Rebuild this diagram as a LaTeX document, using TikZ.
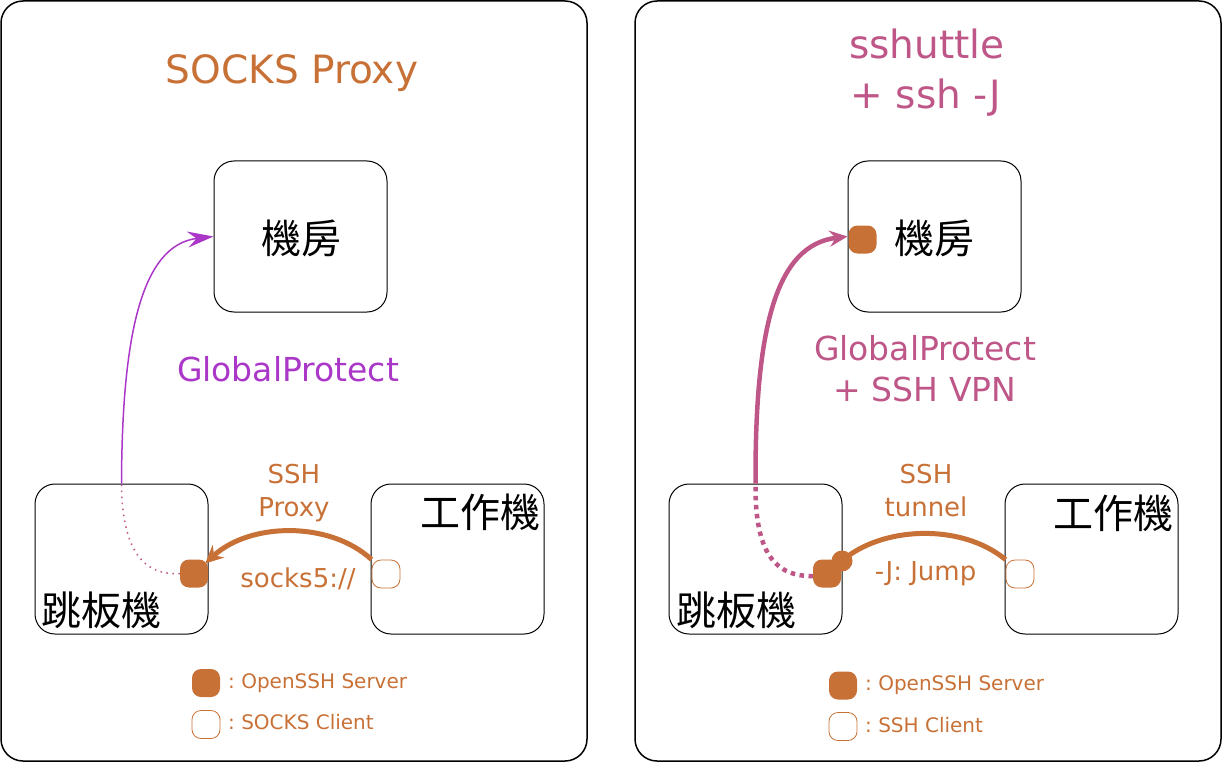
\documentclass[tikz,border=0pt]{standalone}
\usepackage{fontspec}
\setmainfont{DejaVu Sans}
\newfontfamily\cjk{Noto Sans CJK TC}
\usetikzlibrary{arrows.meta,calc}
\definecolor{orng}{HTML}{C87137}
\definecolor{purp}{HTML}{AB37C8}
\definecolor{pnk}{HTML}{BF5688}
\frenchspacing
\tikzset{
 panel/.style={draw=black, line width=1.5pt, rounded corners=22pt},
 hostbox/.style={draw=black, line width=1pt, rounded corners=20pt, minimum width=173pt, minimum height=151pt, inner sep=0pt},
 hostname/.style={font=\cjk\fontsize{40}{44}\selectfont, inner sep=0pt},
 srv/.style={fill=orng, rounded corners=9pt, minimum size=28pt, inner sep=0pt},
 cli/.style={draw=orng, fill=white, line width=0.8pt, rounded corners=9pt, minimum size=28pt, inner sep=0pt},
 title/.style={font=\fontsize{39}{47}\selectfont, inner sep=0pt, anchor=base},
 vpnlabel/.style={font=\fontsize{33}{40}\selectfont, inner sep=0pt, anchor=base},
 sshlabel/.style={text=orng, font=\fontsize{26}{31}\selectfont, inner sep=0pt, anchor=base},
 legendtext/.style={text=orng, font=\fontsize{20}{24}\selectfont\frenchspacing, inner sep=0pt, anchor=base west},
 sshline/.style={draw=orng, line width=5pt},
}
\begin{document}
\begin{tikzpicture}[x=1pt,y=-1pt]
\useasboundingbox (0,0) rectangle (1222,762);
% panels
\draw[panel] (1,1) rectangle (587,761);
\draw[panel] (635,1) rectangle (1221,761);

% ---------- left panel ----------
\node[title, text=orng] (ltitle) at (292,84) {SOCKS Proxy};
\node[hostbox] (lroom) at (300.5,236.5) {};
\node[hostname] (lroomt) at (301,238) {機房};
\node[hostbox, minimum height=150pt] (ljump) at (121.5,559) {};
\node[hostname, anchor=base west] (ljumpt) at (41,625) {跳板機};
\node[hostbox, minimum height=150pt] (lwork) at (457.5,559) {};
\node[hostname, anchor=base east] (lworkt) at (541,527) {工作機};
\node[vpnlabel, text=purp] (lvpn) at (288,381) {GlobalProtect};
\node[sshlabel] (lssh1) at (294,483) {SSH};
\node[sshlabel] (lssh2) at (294,516) {Proxy};
\node[sshlabel] (lsocks) at (298,587) {socks5://};

\node[srv] (lsrv) at (194,573.5) {};
\node[cli] (lcli) at (386,574) {};

\draw[purp, line width=1.5pt, -{Stealth[length=26pt,width=16pt,inset=9pt]}]
  (ljump.north) .. controls (122,340) and (140,245) .. (lroom.west);
\draw[pnk, line width=1.5pt, dash pattern=on 1.5pt off 4.5pt]
  (lsrv.west) .. controls (140,576) and (122,545) .. (ljump.north);
\draw[sshline, -{Stealth[length=18pt,width=17pt,inset=6pt]}]
  (lcli.north west) .. controls (330,521) and (250,522) .. ($(lsrv.east)+(-3,-10)$);

\node[srv] (lleg1) at (206,683) {};
\node[legendtext] (lleg1t) at (228,688) {: OpenSSH Server};
\node[cli] (lleg2) at (206,724.5) {};
\node[legendtext] (lleg2t) at (228,729) {: SOCKS Client};

% ---------- right panel ----------
\node[title, text=pnk] (rtitle1) at (927,59) {sshuttle};
\node[title, text=pnk] (rtitle2) at (926,109) {+ ssh -J};
\node[hostbox] (rroom) at (934.5,236.5) {};
\node[hostname] (rroomt) at (934,238) {機房};
\node[hostbox, minimum height=150pt] (rjump) at (755.5,559) {};
\node[hostname, anchor=base west] (rjumpt) at (676,625) {跳板機};
\node[hostbox, minimum height=150pt] (rwork) at (1091.5,559) {};
\node[hostname, anchor=base east] (rworkt) at (1174,528) {工作機};
\node[vpnlabel, text=pnk] (rvpn1) at (925,360) {GlobalProtect};
\node[vpnlabel, text=pnk] (rvpn2) at (925,401) {+ SSH VPN};
\node[sshlabel] (rssh1) at (926,483) {SSH};
\node[sshlabel] (rssh2) at (926,516) {tunnel};
\node[sshlabel] (rjmp) at (925.5,580) {-J: Jump};

\draw[pnk, line width=4.5pt, -{Stealth[length=18pt,width=16pt,inset=6pt]}]
  (rjump.north) .. controls (755,330) and (775,245) .. (rroom.west);
\draw[pnk, line width=4.5pt, dash pattern=on 4.5pt off 4.5pt]
  (813,576) .. controls (770,577) and (755,545) .. (rjump.north);

\node[cli] (rcli) at (1020,574) {};
\node[circle, fill=orng, minimum size=21pt, inner sep=0pt] (rtun) at (842,561) {};
\draw[sshline] (rtun.center) .. controls (880,527) and (960,522) .. (rcli.north west);
\node[srv] (rsrv) at (827,573.5) {};
\node[srv] (rroomsrv) at (862.5,239.5) {};

\node[srv] (rleg1) at (843,685.5) {};
\node[legendtext] (rleg1t) at (865,690) {: OpenSSH Server};
\node[cli] (rleg2) at (843,726.5) {};
\node[legendtext] (rleg2t) at (865,732) {: SSH Client};
\end{tikzpicture}
\end{document}
